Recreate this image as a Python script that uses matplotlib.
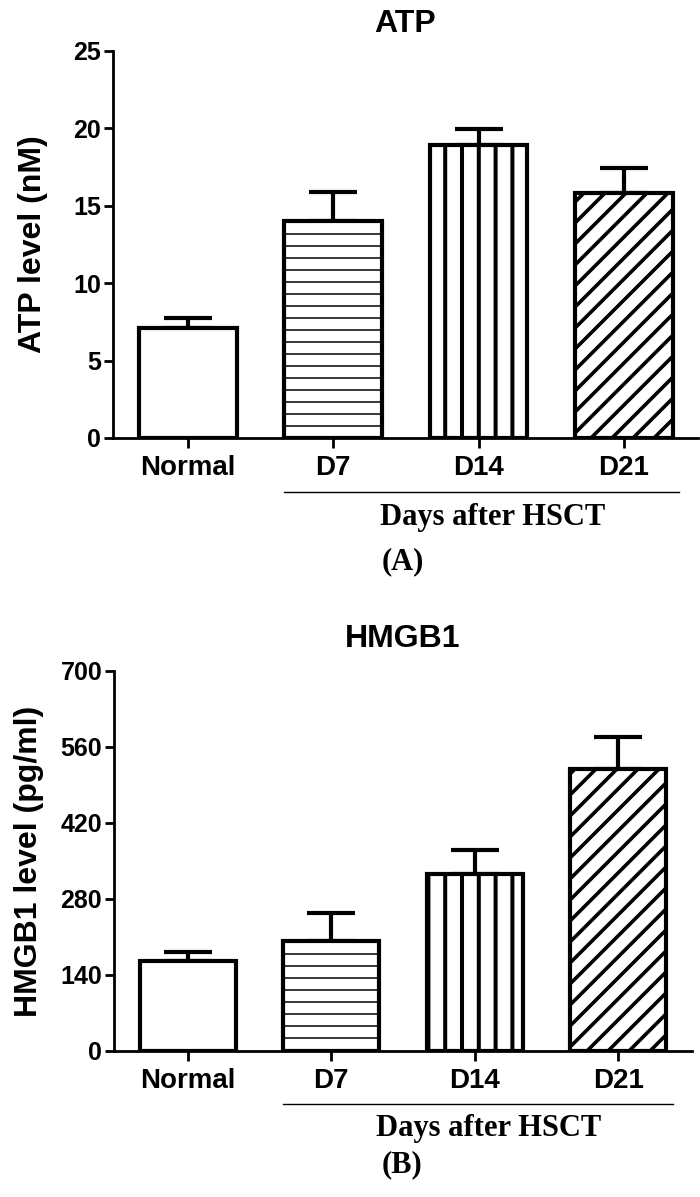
import matplotlib
matplotlib.use("Agg")
import matplotlib.pyplot as plt
import matplotlib.backend_bases as bb
from matplotlib import hatch as mhatch
import matplotlib.transforms as mtrans

# ---- data ----
categories = ["Normal", "D7", "D14", "D21"]
atp_mean = [7.1, 14.0, 18.95, 15.85]
atp_err = [0.65, 1.9, 1.0, 1.6]
atp_ticks = [0, 5, 10, 15, 20, 25]
hmgb1_mean = [165, 202, 326, 519]
hmgb1_err = [17, 53, 44, 60]
hmgb1_ticks = [0, 140, 280, 420, 560, 700]
hatches = [None, "-", "|", "/"]

DPI = 84
S = 100.0 / DPI          # sizes below are given as points at 100 dpi
def p(v):
    return v * S

hatch_lw = [p(1.0), p(1.1), p(2.9), p(2.6)]

# per-pattern hatch density (lines per hatch tile)
_DENS = {"-": 7, "/": 8, "|": 5}
def _get_hatch_path(self, density=6.0):
    h = self.get_hatch()
    if h is None:
        return None
    return mhatch.get_path(h, _DENS.get(h[0], density))
bb.GraphicsContextBase.get_hatch_path = _get_hatch_path

SANS = ["Liberation Sans", "DejaVu Sans"]
SERIF = ["Liberation Serif", "DejaVu Serif"]
plt.rcParams["font.family"] = SANS

fig = plt.figure(figsize=(700 / DPI, 1197 / DPI), dpi=DPI)

def panel(rect, means, errs, ticks, title, ylabel, letter, letter_y,
          xlim_r, title_pad, labelpad):
    ax = fig.add_axes(rect)
    x = list(range(len(categories)))
    ax.errorbar(x, means, yerr=[[0] * len(errs), errs], fmt="none",
                ecolor="black", elinewidth=p(3), capsize=p(17),
                capthick=p(3), zorder=1)
    bars = ax.bar(x, means, width=0.67, color="white", edgecolor="black",
                  linewidth=p(3), zorder=2)
    for b, h, lw in zip(bars, hatches, hatch_lw):
        if h:
            b.set_hatch(h)
            if hasattr(b, "set_hatch_linewidth"):
                b.set_hatch_linewidth(lw)
    ax.set_xlim(-0.515, xlim_r)
    ax.set_ylim(ticks[0], ticks[-1])
    ax.set_yticks(ticks)
    ax.set_xticks(x)
    ax.set_xticklabels(categories, fontsize=p(20), fontweight="bold")
    for lab in ax.get_yticklabels():
        lab.set_fontsize(p(18))
        lab.set_fontweight("bold")
    for s in ["top", "right"]:
        ax.spines[s].set_visible(False)
    for s in ["left", "bottom"]:
        ax.spines[s].set_linewidth(p(2))
    ax.tick_params(axis="y", direction="out", length=p(6.5), width=p(2),
                   pad=p(2))
    ax.tick_params(axis="x", direction="out", length=p(7.5), width=p(2),
                   pad=p(5))
    ax.set_title(title, fontsize=p(23), fontweight="bold", pad=p(title_pad))
    ax.set_ylabel(ylabel, fontsize=p(23), fontweight="bold",
                  labelpad=p(labelpad))
    tr = mtrans.blended_transform_factory(ax.transData, ax.transAxes)
    ax.plot([1 - 0.335, 3.38], [-0.14, -0.14], color="black", lw=p(1.0),
            transform=tr, clip_on=False)
    ax.text(2.1, -0.205, "Days after HSCT", transform=tr, ha="center",
            va="center", fontsize=p(22), fontweight="bold", family=SERIF)
    fig.text(0.575, letter_y, letter, ha="center", va="center",
             fontsize=p(22), fontweight="bold", family=SERIF)
    return ax

panel([0.1614, 0.6341, 0.8357, 0.3233], atp_mean, atp_err, atp_ticks,
      "ATP", "ATP level (nM)", "(A)", 0.5305, 3.51, 13.5, 18)
panel([0.1629, 0.1220, 0.8257, 0.3175], hmgb1_mean, hmgb1_err, hmgb1_ticks,
      "HMGB1", "HMGB1 level (pg/ml)", "(B)", 0.027, 3.515, 17, 12)

fig.savefig("out.png", dpi=DPI)
